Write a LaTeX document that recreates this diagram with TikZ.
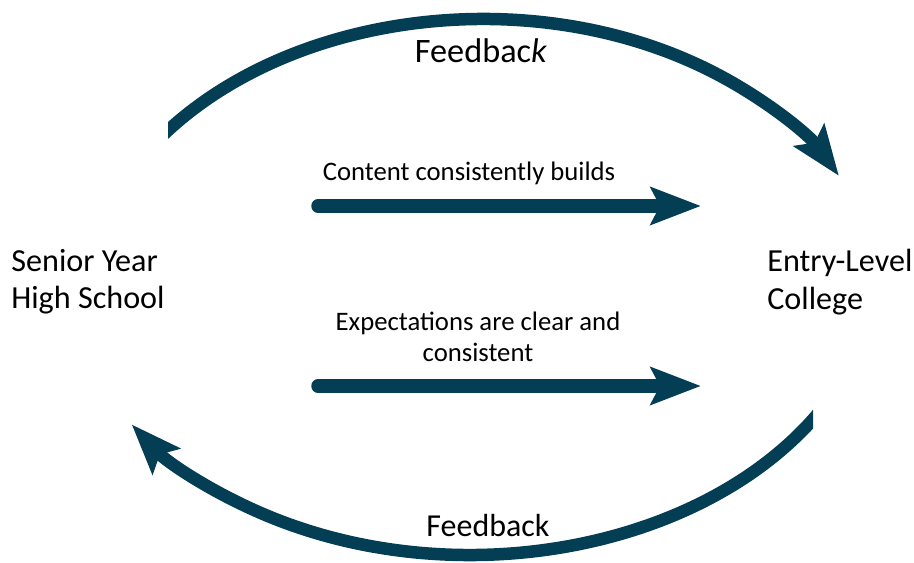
\documentclass[tikz,border=0pt]{standalone}
\usepackage{fontspec}
\setmainfont{Carlito}
\usepackage{tikz}
\usetikzlibrary{arrows.meta}
\definecolor{feedteal}{RGB}{4,62,84}

\begin{document}
\begin{tikzpicture}[x=0.02cm, y=0.02cm,
    bigtext/.style={font=\fontsize{18.3}{21.3}\selectfont, align=left, anchor=west, inner sep=0pt},
    midtext/.style={font=\fontsize{15.2}{17.3}\selectfont, align=center, inner sep=0pt},
    flow/.style={feedteal, line width=0.27cm, line cap=round, -{Stealth[length=1.0cm, width=0.74cm, inset=0.18cm]}},
    loop/.style={feedteal, line width=0.25cm, -{Stealth[length=1.0cm, width=0.74cm, inset=0.18cm]}}]
    \useasboundingbox (0,0) rectangle (914,563);
    \node[bigtext] (senior) at (11,281) {Senior Year\\High School};
    \node[bigtext] (entry) at (767,281) {Entry-Level\\College};
    \coordinate (builds start) at (318,357);
    \coordinate (builds end) at (701,357);
    \coordinate (clear start) at (318,177);
    \coordinate (clear end) at (701,177);
    \draw[flow] (builds start) -- (builds end);
    \draw[flow] (clear start) -- (clear end);
    \node[midtext] (builds) at (469,390) {Content consistently builds};
    \node[midtext] (clear) at (478,226) {Expectations are clear and\\consistent};
    \begin{scope}
        \clip (168,0) rectangle (914,563);
        \draw[loop] (483,244) ++(145:405 and 300) coordinate (topstart)
            arc[start angle=145, end angle=28.5, x radius=405, y radius=300];
    \end{scope}
    \begin{scope}
        \clip (0,0) rectangle (813,563);
        \draw[loop] (470,308) ++(-29:410 and 300) coordinate (botstart)
            arc[start angle=-29, end angle=-145.6, x radius=410, y radius=300];
    \end{scope}
    \node[font=\fontsize{19.5}{22}\selectfont] (fbtop) at (481,512) {Feedbac\textit{k}};
    \node[font=\fontsize{18.2}{20}\selectfont] (fbbot) at (488,37) {Feedback};
\end{tikzpicture}
\end{document}
